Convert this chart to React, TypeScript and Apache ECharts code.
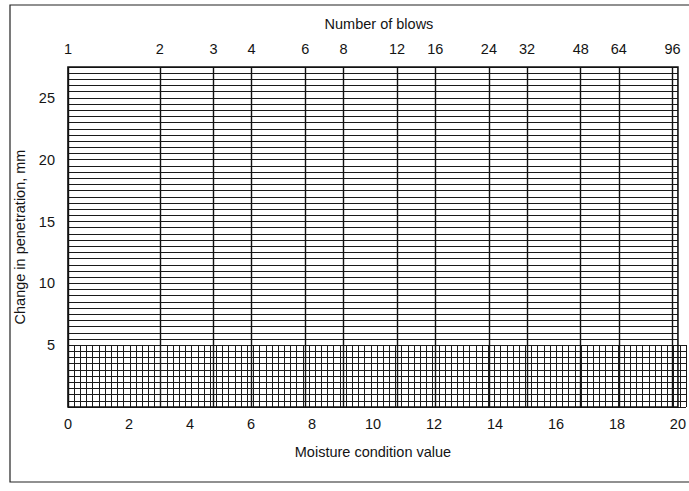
import React, { useEffect, useRef } from 'react';
import * as echarts from 'echarts';

// Bottom axis: moisture condition value
const mcvTicks = [0, 2, 4, 6, 8, 10, 12, 14, 16, 18, 20];
const mcvRange = [0, 20];
const fineMcvStep = 0.2;
// Top axis: number of blows (MCV = 10·log10(blows))
const blowTicks = [1, 2, 3, 4, 6, 8, 12, 16, 24, 32, 48, 64, 96];
const blowRange = [1, 100];
// Left axis: change in penetration, mm
const penetrationTicks = [5, 10, 15, 20, 25];
const penetrationRange = [0, 27.5];
const penetrationStep = 0.5;
const fineGridRange = [0, 5];

const FONT = '"Liberation Sans", Arial, Helvetica, sans-serif';
const INK = '#141414';

export default function App() {
  const ref = useRef<HTMLDivElement>(null);
  useEffect(() => {
    if (!ref.current) return;
    const chart = echarts.init(ref.current, undefined, { renderer: 'svg' });
    const labelStyle = { fontSize: 14.5, color: INK, fontFamily: FONT };
    const option: any = {
      animation: false,
      backgroundColor: '#ffffff',
      textStyle: { fontFamily: FONT },
      graphic: [
        {
          type: 'rect',
          silent: true,
          z: -1,
          shape: { x: 10, y: 5, width: 740, height: 477 },
          style: { fill: 'none', stroke: '#222', lineWidth: 1.2 },
        },
      ],
      grid: [
        { left: 68, right: 3, top: 67, bottom: 84, show: true, borderColor: '#111', borderWidth: 1.6, backgroundColor: 'transparent', z: 5 },
        { left: 68, right: 3, top: 345, bottom: 84, show: false },
      ],
      xAxis: [
        {
          gridIndex: 0,
          type: 'value',
          position: 'bottom',
          min: mcvRange[0],
          max: mcvRange[1],
          interval: 2,
          axisLine: { show: false },
          axisTick: { show: false },
          splitLine: { show: false },
          axisLabel: { ...labelStyle, margin: 9, customValues: mcvTicks, showMinLabel: true, showMaxLabel: true },
          name: 'Moisture condition value',
          nameLocation: 'middle',
          nameGap: 37,
          nameTextStyle: { ...labelStyle },
        },
        {
          gridIndex: 0,
          type: 'log',
          logBase: 10,
          position: 'top',
          min: blowRange[0],
          max: blowRange[1],
          axisLine: { show: false },
          axisTick: { show: false, customValues: blowTicks },
          axisLabel: { ...labelStyle, margin: 11, customValues: blowTicks, showMinLabel: true, showMaxLabel: true },
          splitLine: { show: true, lineStyle: { color: '#111', width: 1.4 } },
          name: 'Number of blows',
          nameLocation: 'middle',
          nameGap: 36,
          nameTextStyle: { ...labelStyle, padding: [0, 0, 0, 12] },
        },
        {
          gridIndex: 1,
          type: 'value',
          min: mcvRange[0],
          max: mcvRange[1],
          interval: fineMcvStep,
          axisLine: { show: false },
          axisTick: { show: false },
          axisLabel: { show: false },
          splitLine: { show: true, lineStyle: { color: '#1a1a1a', width: 1 } },
        },
      ],
      yAxis: [
        {
          gridIndex: 0,
          type: 'value',
          min: penetrationRange[0],
          max: penetrationRange[1],
          interval: penetrationStep,
          axisLine: { show: false },
          axisTick: { show: false },
          axisLabel: { ...labelStyle, margin: 13, customValues: penetrationTicks },
          splitLine: { show: true, lineStyle: { color: '#1a1a1a', width: 1.1 } },
          name: 'Change in penetration, mm',
          nameLocation: 'middle',
          nameGap: 40,
          nameRotate: 90,
          nameTextStyle: { ...labelStyle },
        },
        {
          gridIndex: 1,
          type: 'value',
          min: fineGridRange[0],
          max: fineGridRange[1],
          interval: penetrationStep,
          axisLine: { show: false },
          axisTick: { show: false },
          axisLabel: { show: false },
          splitLine: { show: true, lineStyle: { color: '#1a1a1a', width: 1.1 } },
        },
      ],
      series: [
        { type: 'line', xAxisIndex: 0, yAxisIndex: 0, data: [], silent: true },
        { type: 'line', xAxisIndex: 2, yAxisIndex: 1, data: [], silent: true },
      ],
    };
    chart.setOption(option);
    return () => chart.dispose();
  }, []);
  return (
    <div
      ref={ref}
      style={{ position: 'absolute', left: 0, top: 0, width: 689, height: 491, background: '#fff' }}
    />
  );
}
